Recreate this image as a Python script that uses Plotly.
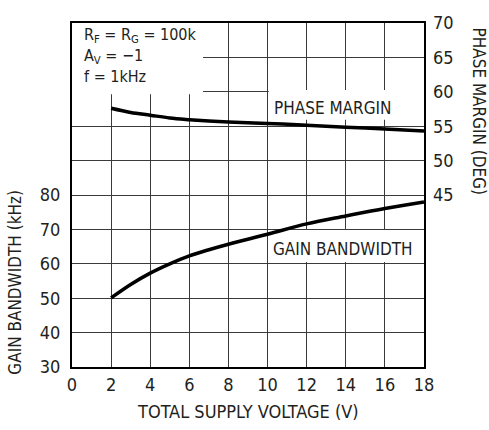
import plotly.graph_objects as go

# ---- data ----
supply_v = [2, 3, 4, 5, 6, 7, 8, 10, 12, 14, 16, 18]
gain_bw_khz = [50.1, 54.0, 57.3, 60.0, 62.3, 64.1, 65.7, 68.6, 71.6, 73.9, 76.1, 78.0]
phase_margin_deg = [57.6, 57.0, 56.6, 56.2, 55.95, 55.75, 55.6, 55.4, 55.15, 54.85, 54.6, 54.3]

x_ticks = [0, 2, 4, 6, 8, 10, 12, 14, 16, 18]
y_left_ticks = [30, 40, 50, 60, 70, 80, 90, 100, 110, 120, 130]
y_left_labels = ["30", "40", "50", "60", "70", "80", "", "", "", "", ""]
y_right_ticks = [45, 50, 55, 60, 65, 70]

FONT = "Liberation Sans Narrow, DejaVu Sans Condensed, Arial Narrow, sans-serif"
INK = "#231f20"
GRID = "#3a3a3a"

fig = go.Figure()
fig.add_trace(go.Scatter(x=supply_v, y=gain_bw_khz, mode="lines",
                         line=dict(color="black", width=3.5, shape="spline"),
                         yaxis="y", showlegend=False, hoverinfo="skip"))
fig.add_trace(go.Scatter(x=supply_v, y=phase_margin_deg, mode="lines",
                         line=dict(color="black", width=3.5, shape="spline"),
                         yaxis="y2", showlegend=False, hoverinfo="skip"))

# white label boxes (drawn between grid and traces), in left-axis units
box = dict(type="rect", fillcolor="white", line=dict(width=0), layer="between",
           xref="x", yref="y")
fig.add_shape(**box, x0=0, x1=6.7, y0=109.3, y1=130)
fig.add_shape(**box, x0=10.06, x1=18, y0=101.9, y1=110.5)
fig.add_shape(**box, x0=10.06, x1=18, y0=60.5, y1=69.8)

ann_font = dict(family=FONT, size=17, color=INK)
fig.add_annotation(text="R<sub>F</sub> = R<sub>G</sub> = 100k<br>A<sub>V</sub> = −1<br>f = 1kHz",
                   xref="paper", yref="paper", x=0.028, y=0.905,
                   xanchor="left", yanchor="middle", align="left",
                   showarrow=False, font=dict(family=FONT, size=16, color=INK))
fig.add_annotation(text="PHASE MARGIN", xref="x", yref="paper", x=13.37, y=0.7536,
                   xanchor="center", yanchor="middle", showarrow=False, font=ann_font)
fig.add_annotation(text="GAIN BANDWIDTH", xref="x", yref="paper", x=13.86, y=0.342,
                   xanchor="center", yanchor="middle", showarrow=False, font=ann_font)

# axis titles
fig.add_annotation(text="TOTAL SUPPLY VOLTAGE (V)", xref="paper", yref="paper",
                   x=0.5, y=-0.1296, xanchor="center", yanchor="middle",
                   showarrow=False, font=dict(family=FONT, size=18, color=INK))
fig.add_annotation(text="GAIN BANDWIDTH (kHz)", xref="paper", yref="paper",
                   x=-0.162, y=0.248, xanchor="center", yanchor="middle", textangle=-90,
                   showarrow=False, font=ann_font)
fig.add_annotation(text="PHASE MARGIN (DEG)", xref="paper", yref="paper",
                   x=1.155, y=0.744, xanchor="center", yanchor="middle", textangle=90,
                   showarrow=False, font=ann_font)

tick_font = dict(family=FONT, size=18, color=INK)
fig.update_layout(
    width=489, height=430,
    margin=dict(l=72, r=65, t=16, b=63),
    paper_bgcolor="white", plot_bgcolor="white",
    hovermode=False,
    xaxis=dict(range=[0, 18], tickvals=x_ticks, showgrid=True, gridcolor=GRID, gridwidth=1,
               showline=True, linecolor="black", linewidth=2, mirror=True,
               ticks="", tickfont=tick_font, zeroline=False),
    yaxis=dict(range=[30, 130], tickvals=y_left_ticks, ticktext=y_left_labels,
               showgrid=True, gridcolor=GRID, gridwidth=1,
               showline=True, linecolor="black", linewidth=2, mirror=True,
               ticks="", ticklabelstandoff=6, tickfont=tick_font, zeroline=False),
    yaxis2=dict(range=[20, 70], tickvals=y_right_ticks, overlaying="y", side="right",
                showgrid=False, showline=False, ticks="", ticklabelstandoff=8,
                tickfont=tick_font, zeroline=False),
)

fig.write_html("out.html", config={"displayModeBar": False},
               post_script="document.body.style.margin='0';document.body.style.overflow='hidden';")
